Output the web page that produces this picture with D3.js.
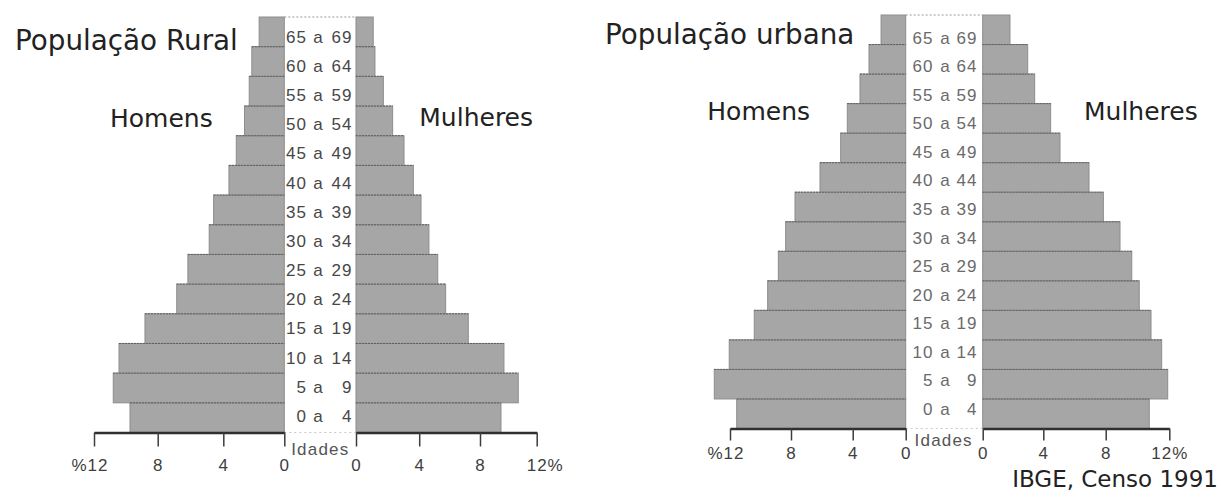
<!DOCTYPE html>
<html>
<head>
<meta charset="utf-8">
<script src="https://cdn.jsdelivr.net/npm/d3@7"></script>
<style>
  html, body { margin: 0; padding: 0; background: #ffffff; }
  svg { display: block; }
</style>
</head>
<body>
<svg id="chart" width="1221" height="498"></svg>
<script>
// ---------------- DATA ----------------
const ageLabels = ["0 a 4", "5 a 9", "10 a 14", "15 a 19", "20 a 24", "25 a 29", "30 a 34",
                   "35 a 39", "40 a 44", "45 a 49", "50 a 54", "55 a 59", "60 a 64", "65 a 69"];

// percentages, ordered from "0 a 4" to "65 a 69"
const ruralMen    = [9.74, 10.79, 10.43, 8.80, 6.84, 6.16, 4.86, 4.59, 3.63, 3.15, 2.61, 2.30, 2.13, 1.65];
const ruralWomen  = [9.48, 10.70, 9.69, 7.23, 5.74, 5.22, 4.64, 4.12, 3.63, 3.04, 2.32, 1.73, 1.20, 1.09];
const urbanMen    = [11.56, 13.03, 12.05, 10.41, 9.53, 8.83, 8.35, 7.74, 6.12, 4.78, 4.35, 3.45, 2.77, 1.86];
const urbanWomen  = [10.74, 11.90, 11.52, 10.85, 10.11, 9.64, 8.90, 7.85, 6.93, 5.07, 4.47, 3.43, 2.97, 1.80];

const tickValues  = [0, 4, 8, 12];
const titles      = ["População Rural", "População urbana"];
const sideLabels  = ["Homens", "Mulheres"];
const axisTitle   = "Idades";
const sourceText  = "IBGE, Censo 1991";

// ---------------- LAYOUT ----------------
const panels = [
  { title: titles[0], men: ruralMen, women: ruralWomen,
    leftRange: [284.3, 223.3, 157.7, 94], rightRange: [356, 419.2, 480, 536.7],
    top: 17, bottom: 432.5, labelTop: 36.7, labelBottom: 416,
    lowEnd: 307, aMid: 318.5, highEnd: 352.5, labelColor: "#474747",
    tickLen: 14, tickLabelY: 471, idadesX: 320.3, idadesY: 455,
    titleX: 15, titleY: 49.5, homensX: 110, homensY: 127, mulheresX: 419.3, mulheresY: 126,
    right12dx: 8 },
  { title: titles[1], men: urbanMen, women: urbanWomen,
    leftRange: [905.7, 852.7, 791, 730], rightRange: [982.7, 1043.3, 1105.7, 1169.3],
    top: 15, bottom: 428.5, labelTop: 37.5, labelBottom: 409,
    lowEnd: 933.5, aMid: 945.5, highEnd: 977.5, labelColor: "#6a6a6a",
    tickLen: 12, tickLabelY: 459, idadesX: 943.7, idadesY: 446,
    titleX: 605, titleY: 44, homensX: 707.3, homensY: 120, mulheresX: 1084, mulheresY: 120,
    right12dx: 0 }
];

const svg = d3.select("#chart");
const labelFont = "'Liberation Sans', Arial, sans-serif";
const titleFont = "'DejaVu Sans', Verdana, sans-serif";

panels.forEach(p => {
  const g = svg.append("g");
  const y = d3.scaleBand().domain(ageLabels).range([p.bottom, p.top]).paddingInner(0);
  const yLab = d3.scalePoint().domain(ageLabels).range([p.labelBottom, p.labelTop]);
  const xL = d3.scaleLinear().domain(tickValues).range(p.leftRange);
  const xR = d3.scaleLinear().domain(tickValues).range(p.rightRange);
  const x0L = xL(0), x0R = xR(0);

  // bars - men (left)
  g.append("g").selectAll("rect").data(ageLabels).join("rect")
    .attr("x", (d, i) => xL(p.men[i]))
    .attr("y", d => y(d))
    .attr("width", (d, i) => x0L - xL(p.men[i]))
    .attr("height", y.bandwidth())
    .attr("fill", "#a6a6a6")
    .attr("stroke", "#8d8d8d")
    .attr("stroke-width", 1);

  // bars - women (right)
  g.append("g").selectAll("rect").data(ageLabels).join("rect")
    .attr("x", x0R)
    .attr("y", d => y(d))
    .attr("width", (d, i) => xR(p.women[i]) - x0R)
    .attr("height", y.bandwidth())
    .attr("fill", "#a6a6a6")
    .attr("stroke", "#8d8d8d")
    .attr("stroke-width", 1);

  // darker separators on top of each bar
  g.append("g").selectAll("line").data(ageLabels.slice(0, -1)).join("line")
    .attr("x1", (d, i) => xL(p.men[i])).attr("x2", x0L)
    .attr("y1", d => y(d)).attr("y2", d => y(d))
    .attr("stroke", "#5f5f5f").attr("stroke-width", 1).attr("stroke-dasharray", "2,1");
  g.append("g").selectAll("line").data(ageLabels.slice(0, -1)).join("line")
    .attr("x1", x0R).attr("x2", (d, i) => xR(p.women[i]))
    .attr("y1", d => y(d)).attr("y2", d => y(d))
    .attr("stroke", "#5f5f5f").attr("stroke-width", 1).attr("stroke-dasharray", "2,1");

  // dotted band edges (top and bottom of the white age strip)
  g.append("line").attr("x1", x0L).attr("x2", x0R).attr("y1", p.top).attr("y2", p.top)
    .attr("stroke", "#9a9a9a").attr("stroke-width", 1).attr("stroke-dasharray", "2,2");
  g.append("line").attr("x1", x0L).attr("x2", x0R).attr("y1", p.bottom).attr("y2", p.bottom)
    .attr("stroke", "#c8c8c8").attr("stroke-width", 1).attr("stroke-dasharray", "2,3");

  // age labels: low number / "a" / high number
  const lab = g.append("g").attr("font-family", labelFont).attr("font-size", 17)
    .attr("letter-spacing", 1).attr("fill", p.labelColor);
  ageLabels.forEach(a => {
    const parts = a.split(" a ");
    const yy = yLab(a) + 6;
    lab.append("text").attr("x", p.lowEnd).attr("y", yy).attr("text-anchor", "end").text(parts[0]);
    lab.append("text").attr("x", p.aMid).attr("y", yy).attr("text-anchor", "middle").text("a");
    lab.append("text").attr("x", p.highEnd).attr("y", yy).attr("text-anchor", "end").text(parts[1]);
  });

  // axes
  const styleAxis = (sel, side) => {
    sel.select(".domain").attr("stroke", "#2f2f2f").attr("stroke-width", 2.6);
    sel.selectAll(".tick line").attr("stroke", "#3c3c3c").attr("stroke-width", 1.5);
    sel.selectAll(".tick text")
      .attr("font-family", labelFont).attr("font-size", 17).attr("letter-spacing", 1)
      .attr("fill", "#3e3e3e")
      .attr("y", p.tickLabelY - p.bottom).attr("dy", null)
      .attr("text-anchor", d => d === 12 ? (side === "L" ? "end" : "middle") : "middle")
      .attr("x", d => d === 12 ? (side === "L" ? 14 : p.right12dx) : 0);
  };
  const axL = d3.axisBottom(xL).tickValues(tickValues).tickSize(p.tickLen).tickSizeOuter(0)
    .tickFormat(d => d === 12 ? "%12" : String(d));
  const axR = d3.axisBottom(xR).tickValues(tickValues).tickSize(p.tickLen).tickSizeOuter(0)
    .tickFormat(d => d === 12 ? "12%" : String(d));
  g.append("g").attr("transform", `translate(0,${p.bottom})`).call(axL).call(s => styleAxis(s, "L"));
  g.append("g").attr("transform", `translate(0,${p.bottom})`).call(axR).call(s => styleAxis(s, "R"));

  // "Idades"
  g.append("text").attr("x", p.idadesX).attr("y", p.idadesY).attr("text-anchor", "middle")
    .attr("font-family", labelFont).attr("font-size", 17).attr("letter-spacing", 1.2)
    .attr("fill", "#555").text(axisTitle);

  // titles
  g.append("text").attr("x", p.titleX).attr("y", p.titleY)
    .attr("font-family", titleFont).attr("font-size", 27.8).attr("fill", "#222").text(p.title);
  g.append("text").attr("x", p.homensX).attr("y", p.homensY)
    .attr("font-family", titleFont).attr("font-size", 25).attr("fill", "#222").text(sideLabels[0]);
  g.append("text").attr("x", p.mulheresX).attr("y", p.mulheresY)
    .attr("font-family", titleFont).attr("font-size", 25).attr("fill", "#222").text(sideLabels[1]);
});

svg.append("text").attr("x", 1218).attr("y", 487).attr("text-anchor", "end")
  .attr("font-family", titleFont).attr("font-size", 23).attr("fill", "#222").text(sourceText);
</script>
</body>
</html>
